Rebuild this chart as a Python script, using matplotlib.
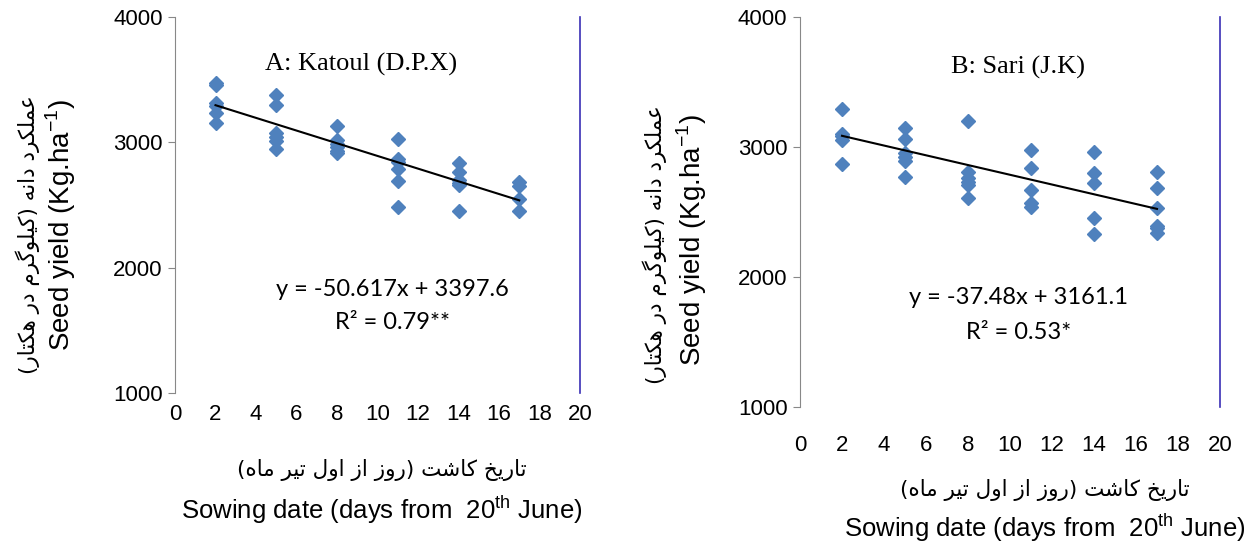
import numpy as np
import matplotlib
matplotlib.use('Agg')
import matplotlib.pyplot as plt

plt.rcParams['font.family'] = ['Liberation Sans', 'DejaVu Sans']
plt.rcParams['mathtext.fontset'] = 'custom'
plt.rcParams['mathtext.rm'] = 'Liberation Sans'

# ---- data ----
days = [2, 5, 8, 11, 14, 17]

katoul = {
    2: [3471, 3460, 3311, 3290, 3236, 3157],
    5: [3378, 3298, 3072, 3040, 3013, 2947],
    8: [3130, 3019, 2990, 2960, 2930, 2912],
    11: [3027, 2865, 2840, 2787, 2694, 2486],
    14: [2838, 2761, 2700, 2673, 2660, 2455],
    17: [2680, 2655, 2545, 2455],
}
sari = {
    2: [3292, 3098, 3085, 3054, 2867],
    5: [3144, 3062, 2952, 2920, 2892, 2772],
    8: [3203, 2810, 2764, 2730, 2708, 2605],
    11: [2977, 2836, 2669, 2567, 2541],
    14: [2959, 2798, 2721, 2452, 2329],
    17: [2805, 2682, 2528, 2395, 2375, 2336],
}
fit_a = (-50.617, 3397.6)
fit_b = (-37.48, 3161.1)
eq_a = ['y = -50.617x + 3397.6', 'R² = 0.79**']
eq_b = ['y = -37.48x + 3161.1', 'R² = 0.53*']
title_a = 'A: Katoul (D.P.X)'
title_b = 'B: Sari (J.K)'
yticks = [1000, 2000, 3000, 4000]
xticks = list(range(0, 21, 2))

ylab_fa = 'عملکرد دانه (کیلوگرم در هکتار)'
xlab_fa = 'تاریخ کاشت (روز از اول تیر ماه)'
ylab_en = r'Seed yield (Kg.ha$^{\mathregular{-1}}$)'
xlab_en = r'Sowing date (days from  20$^{\mathregular{th}}$ June)'

# simple persian shaping: (isolated, final, initial, medial)
FORMS = {
    'ا': ('\uFE8D', '\uFE8E', None, None),
    'د': ('\uFEA9', '\uFEAA', None, None),
    'ر': ('\uFEAD', '\uFEAE', None, None),
    'ز': ('\uFEAF', '\uFEB0', None, None),
    'و': ('\uFEED', '\uFEEE', None, None),
    'ت': ('\uFE95', '\uFE96', '\uFE97', '\uFE98'),
    'خ': ('\uFEA5', '\uFEA6', '\uFEA7', '\uFEA8'),
    'ش': ('\uFEB5', '\uFEB6', '\uFEB7', '\uFEB8'),
    'ع': ('\uFEC9', '\uFECA', '\uFECB', '\uFECC'),
    'ل': ('\uFEDD', '\uFEDE', '\uFEDF', '\uFEE0'),
    'م': ('\uFEE1', '\uFEE2', '\uFEE3', '\uFEE4'),
    'ن': ('\uFEE5', '\uFEE6', '\uFEE7', '\uFEE8'),
    'ه': ('\uFEE9', '\uFEEA', '\uFEEB', '\uFEEC'),
    'ک': ('\uFB8E', '\uFB8F', '\uFB90', '\uFB91'),
    'گ': ('\uFB92', '\uFB93', '\uFB94', '\uFB95'),
    'ی': ('\uFBFC', '\uFBFD', '\uFBFE', '\uFBFF'),
}


def shape(s):
    out = []
    for i, ch in enumerate(s):
        if ch not in FORMS:
            out.append(ch)
            continue
        prev = s[i - 1] if i > 0 else None
        nxt = s[i + 1] if i + 1 < len(s) else None
        jp = prev in FORMS and FORMS[prev][2] is not None
        jn = nxt in FORMS and FORMS[ch][2] is not None
        f = FORMS[ch]
        if jp and jn:
            out.append(f[3])
        elif jp:
            out.append(f[1])
        elif jn:
            out.append(f[2])
        else:
            out.append(f[0])
    vis = ''.join(out)[::-1]
    return vis.translate(str.maketrans('()', ')('))


W, H = 1257, 543
fig = plt.figure(figsize=(W / 100, H / 100), dpi=100)

blue = '#4F81BD'
fa_font = ['DejaVu Sans']


def px(x, y):
    return x / W, 1 - y / H


def panel(rect, data, fit, eq, title, tpos, epos, xpad):
    ax = fig.add_axes(rect)
    for d in days:
        vals = data[d]
        ax.plot([d] * len(vals), vals, 'D', color=blue, ms=7.5, mec=blue)
    xx = np.array([days[0], days[-1]])
    ax.plot(xx, fit[0] * xx + fit[1], color='black', lw=1.5)
    ax.set_xlim(0, 20)
    ax.set_ylim(1000, 4000)
    ax.set_xticks(xticks)
    ax.set_yticks(yticks)
    ax.tick_params(labelsize=16, length=5, color='#888888')
    ax.tick_params(axis='y', pad=4)
    ax.tick_params(axis='x', length=0, pad=xpad)
    ax.spines['top'].set_visible(False)
    ax.spines['left'].set_color('#888888')
    ax.spines['bottom'].set_visible(False)
    ax.spines['right'].set_color('#3a2fb5')
    ax.spines['right'].set_linewidth(1.2)
    ax.text(tpos[0], tpos[1], title, transform=ax.transAxes, ha='center', va='center',
            family='Liberation Serif', fontsize=19)
    ax.text(epos[0], epos[1], eq[0], transform=ax.transAxes, ha='center', va='center',
            family='Lato', fontsize=17)
    ax.text(epos[0], epos[1] - 0.088, eq[1], transform=ax.transAxes, ha='center', va='center',
            family='Lato', fontsize=17)
    return ax


ax1 = panel([175 / W, 1 - 393 / H, 405 / W, 376 / H], katoul, fit_a, eq_a, title_a,
            (0.46, 0.875), (0.537, 0.275), 8)
ax2 = panel([800 / W, 1 - 407 / H, 420 / W, 390 / H], sari, fit_b, eq_b, title_b,
            (0.52, 0.87), (0.52, 0.28), 20)

# axis labels
fig.text(*px(28, 235), shape(ylab_fa), rotation=90, ha='center', va='center',
         family=fa_font, fontsize=15.5)
fig.text(*px(61, 225), ylab_en, rotation=90, ha='center', va='center', fontsize=20)
fig.text(*px(655, 245), shape(ylab_fa), rotation=90, ha='center', va='center',
         family=fa_font, fontsize=15.5)
fig.text(*px(692, 240), ylab_en, rotation=90, ha='center', va='center', fontsize=20)

fig.text(*px(382, 470), shape(xlab_fa), ha='center', va='center', family=fa_font, fontsize=15.5)
fig.text(*px(382, 510), xlab_en, ha='center', va='center', fontsize=18.5)
fig.text(*px(1045, 490), shape(xlab_fa), ha='center', va='center', family=fa_font, fontsize=15.5)
fig.text(*px(1045, 528), xlab_en, ha='center', va='center', fontsize=18.5)

fig.savefig('out.png', dpi=100)
